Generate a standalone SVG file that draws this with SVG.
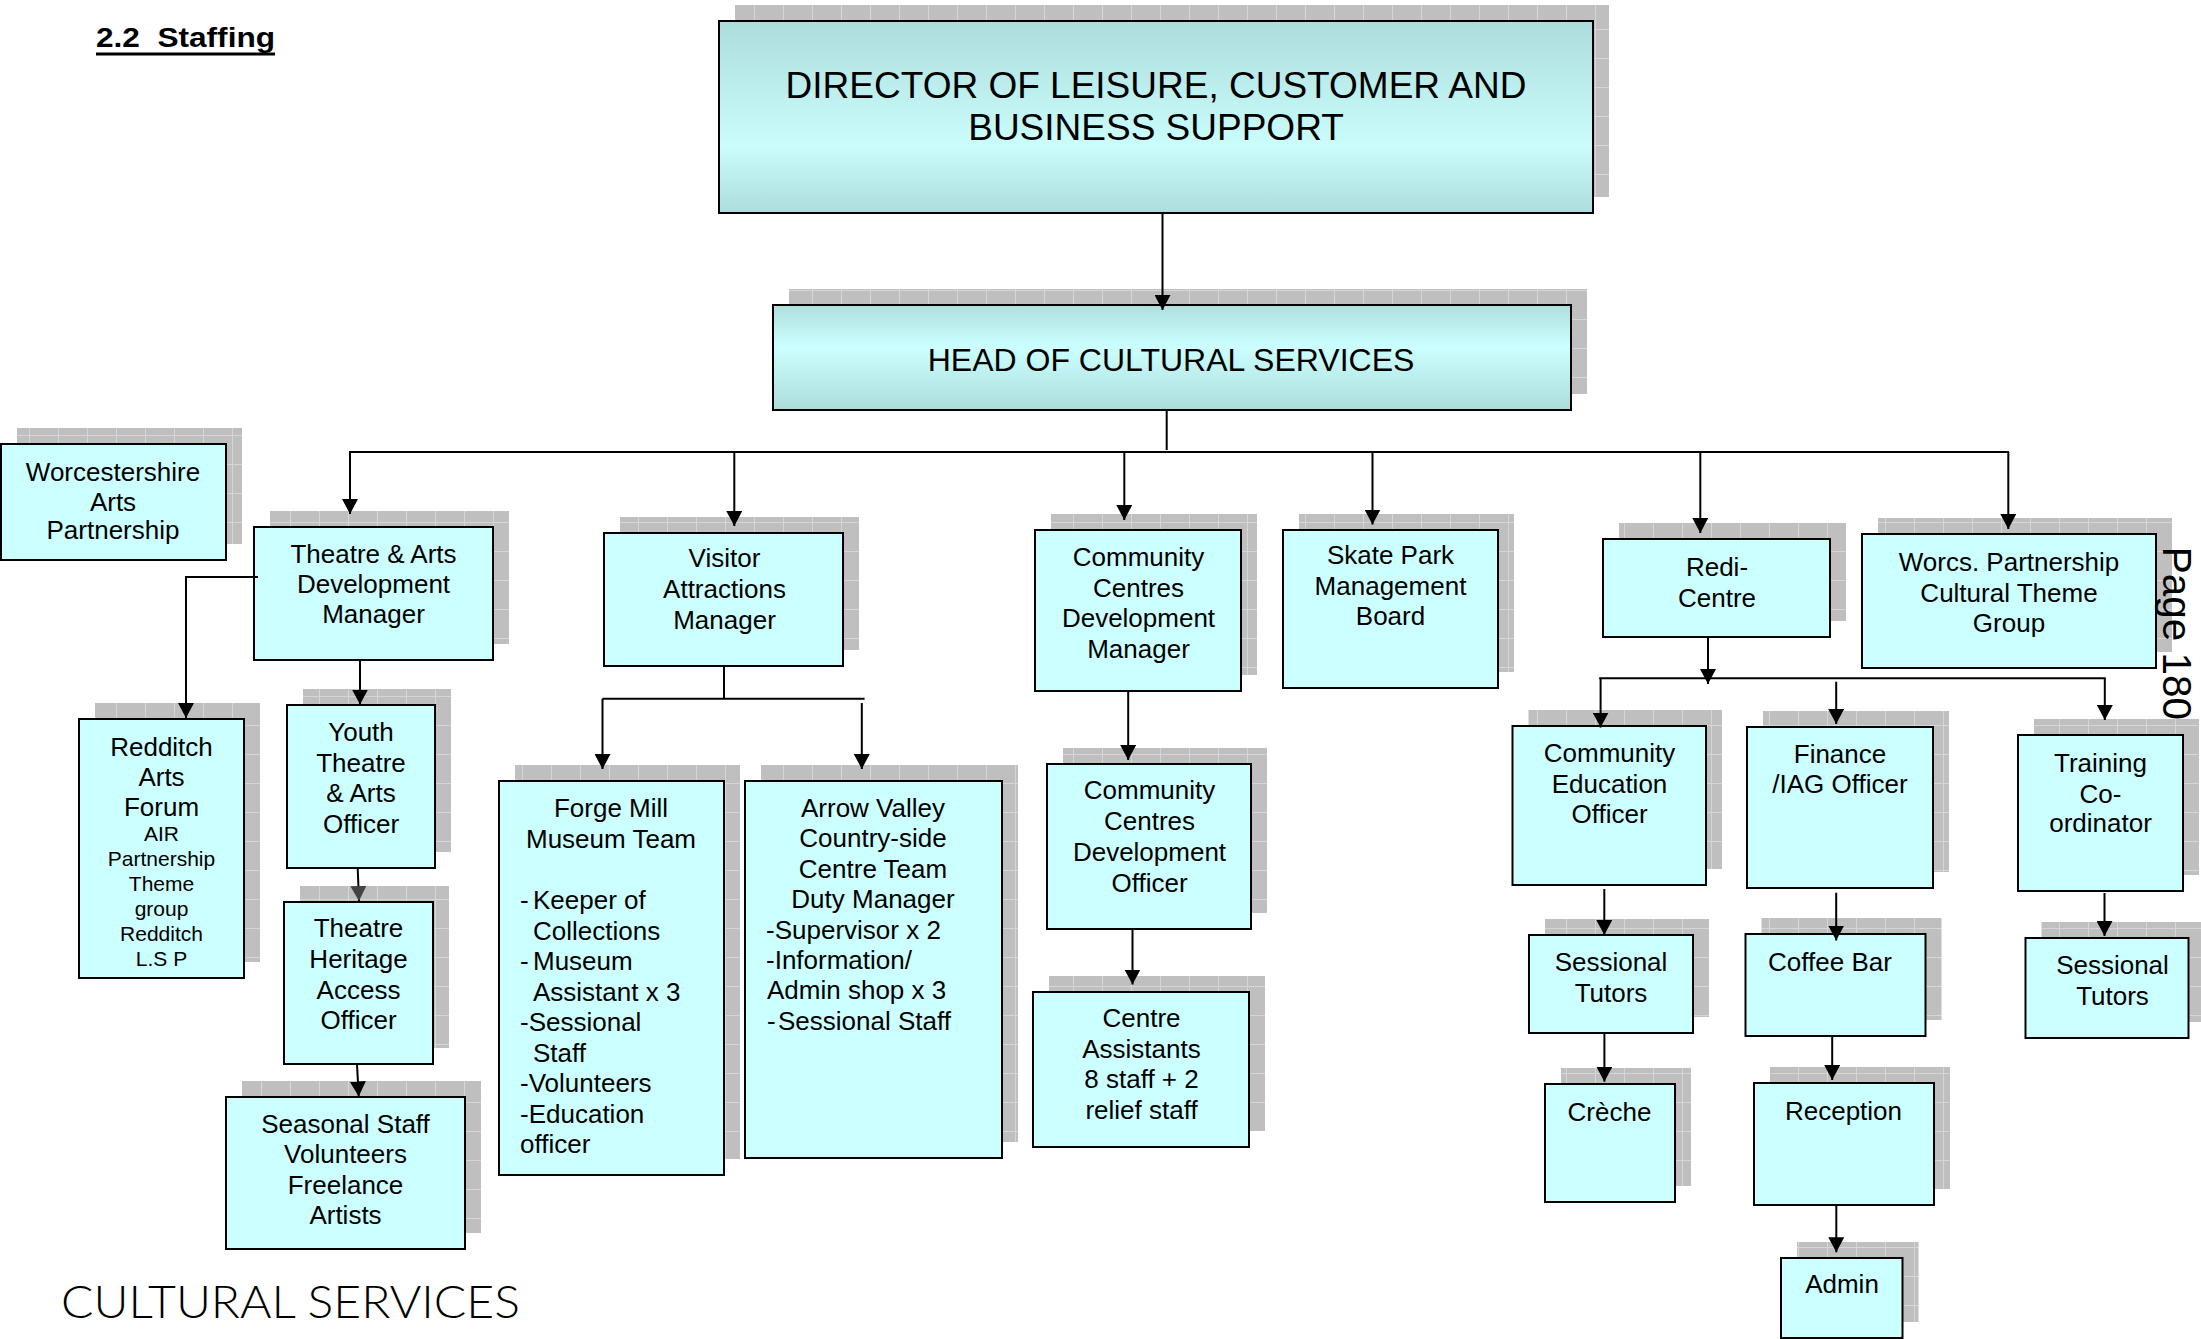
<svg xmlns="http://www.w3.org/2000/svg" width="2201" height="1339" viewBox="0 0 2201 1339">
  <defs>
    <!-- grey chequered drop shadow fill -->
    <pattern id="grid" width="29" height="29" patternUnits="userSpaceOnUse">
      <rect width="29" height="29" fill="#bfbfbf"/>
      <path d="M0 0.5H29M0.5 0V29" stroke="#d6d6d6" stroke-width="1"/>
    </pattern>
    <linearGradient id="gDir" x1="0" y1="0" x2="0" y2="1">
      <stop offset="0" stop-color="#addcdc"/>
      <stop offset="0.65" stop-color="#cbfdfd"/>
      <stop offset="1" stop-color="#addcdc"/>
    </linearGradient>
    <linearGradient id="gHead" x1="0" y1="0" x2="0" y2="1">
      <stop offset="0" stop-color="#afdfdf"/>
      <stop offset="0.4" stop-color="#ccffff"/>
      <stop offset="1" stop-color="#addcdc"/>
    </linearGradient>
    <marker id="ah" viewBox="0 0 16 16" refX="15" refY="8" markerWidth="16" markerHeight="16" markerUnits="userSpaceOnUse" orient="auto">
      <path d="M0,0 L15,8 L0,16 z" fill="#000"/>
    </marker>
    <marker id="ahg" viewBox="0 0 16 16" refX="15" refY="8" markerWidth="16" markerHeight="16" markerUnits="userSpaceOnUse" orient="auto">
      <path d="M0,0 L15,8 L0,16 z" fill="#444"/>
    </marker>
    <style>
      .sh { fill: url(#grid); }
      .box { fill: #ccffff; stroke: #000; stroke-width: 2; }
      .t { font-family: "Liberation Sans", Arial, sans-serif; font-size: 26px; fill: #000; text-anchor: middle; }
      .l { text-anchor: start; }
      .s { font-size: 21px; }
      .conn line, .conn polyline { stroke: #000; stroke-width: 2; fill: none; }
      .a { marker-end: url(#ah); }
    </style>
  </defs>

  <rect width="2201" height="1339" fill="#fff"/>

  <!-- page heading -->
  <text x="96" y="46.5" font-family="Liberation Sans, Arial, sans-serif" font-weight="bold" font-size="28" textLength="179" lengthAdjust="spacingAndGlyphs" xml:space="preserve">2.2  Staffing</text>
  <rect x="96" y="52.5" width="179" height="3" fill="#000"/>

  <!-- nodes -->
  <g id="director">
    <rect class="sh" x="735" y="5" width="874" height="192"/>
    <rect class="box" x="719" y="21" width="874" height="192" style="fill:url(#gDir)"/>
    <text class="t" style="font-size:37px"><tspan x="1156" y="98.3">DIRECTOR OF LEISURE, CUSTOMER AND</tspan><tspan x="1156" y="140">BUSINESS SUPPORT</tspan></text>
  </g>

  <g id="head">
    <rect class="sh" x="789" y="289" width="798" height="105"/>
    <rect class="box" x="773" y="305" width="798" height="105" style="fill:url(#gHead)"/>
    <text class="t" style="font-size:32px" x="1171" y="370.7">HEAD OF CULTURAL SERVICES</text>
  </g>

  <g id="worcestershire-arts">
    <rect class="sh" x="17" y="428" width="225" height="116"/>
    <rect class="box" x="1" y="444" width="225" height="116"/>
    <text class="t"><tspan x="113" y="481">Worcestershire</tspan><tspan x="113" y="510.5">Arts</tspan><tspan x="113" y="539.3">Partnership</tspan></text>
  </g>

  <g id="theatre-arts">
    <rect class="sh" x="270" y="511" width="239" height="133"/>
    <rect class="box" x="254" y="527" width="239" height="133"/>
    <text class="t"><tspan x="373.5" y="562.5">Theatre &amp; Arts</tspan><tspan x="373.5" y="593">Development</tspan><tspan x="373.5" y="623">Manager</tspan></text>
  </g>

  <g id="redditch-arts-forum">
    <rect class="sh" x="95" y="703" width="165" height="259"/>
    <rect class="box" x="79" y="719" width="165" height="259"/>
    <text class="t"><tspan x="161.5" y="756">Redditch</tspan><tspan x="161.5" y="785.5">Arts</tspan><tspan x="161.5" y="815.5">Forum</tspan></text>
    <text class="t s"><tspan x="161.5" y="841">AIR</tspan><tspan x="161.5" y="866">Partnership</tspan><tspan x="161.5" y="891">Theme</tspan><tspan x="161.5" y="916">group</tspan><tspan x="161.5" y="941">Redditch</tspan><tspan x="161.5" y="965.5">L.S P</tspan></text>
  </g>

  <g id="youth-theatre">
    <rect class="sh" x="303" y="689" width="148" height="163"/>
    <rect class="box" x="287" y="705" width="148" height="163"/>
    <text class="t"><tspan x="361" y="741">Youth</tspan><tspan x="361" y="771.5">Theatre</tspan><tspan x="361" y="802">&amp; Arts</tspan><tspan x="361" y="832.5">Officer</tspan></text>
  </g>

  <g id="theatre-heritage">
    <rect class="sh" x="300" y="886" width="149" height="162"/>
    <rect class="box" x="284" y="902" width="149" height="162"/>
    <text class="t"><tspan x="358.5" y="937">Theatre</tspan><tspan x="358.5" y="967.5">Heritage</tspan><tspan x="358.5" y="998.5">Access</tspan><tspan x="358.5" y="1028.5">Officer</tspan></text>
  </g>

  <g id="seasonal-staff">
    <rect class="sh" x="242" y="1081" width="239" height="152"/>
    <rect class="box" x="226" y="1097" width="239" height="152"/>
    <text class="t"><tspan x="345.5" y="1132.5">Seasonal Staff</tspan><tspan x="345.5" y="1163">Volunteers</tspan><tspan x="345.5" y="1193.5">Freelance</tspan><tspan x="345.5" y="1224">Artists</tspan></text>
  </g>

  <g id="visitor-attractions">
    <rect class="sh" x="620" y="517" width="239" height="133"/>
    <rect class="box" x="604" y="533" width="239" height="133"/>
    <text class="t"><tspan x="724.5" y="567">Visitor</tspan><tspan x="724.5" y="598">Attractions</tspan><tspan x="724.5" y="628.5">Manager</tspan></text>
  </g>

  <g id="forge-mill">
    <rect class="sh" x="515" y="765" width="225" height="394"/>
    <rect class="box" x="499" y="781" width="225" height="394"/>
    <text class="t"><tspan x="611" y="817">Forge Mill</tspan><tspan x="611" y="848">Museum Team</tspan></text>
    <text class="t l">
      <tspan x="520" y="908.5">-</tspan><tspan x="533" y="908.5">Keeper of</tspan>
      <tspan x="533" y="939.5">Collections</tspan>
      <tspan x="520" y="970">-</tspan><tspan x="533" y="970">Museum</tspan>
      <tspan x="533" y="1000.5">Assistant x 3</tspan>
      <tspan x="520" y="1031">-Sessional</tspan>
      <tspan x="533" y="1061.5">Staff</tspan>
      <tspan x="520" y="1092">-Volunteers</tspan>
      <tspan x="520" y="1122.5">-Education</tspan>
      <tspan x="520" y="1153">officer</tspan>
    </text>
  </g>

  <g id="arrow-valley">
    <rect class="sh" x="761" y="765" width="257" height="377"/>
    <rect class="box" x="745" y="781" width="257" height="377"/>
    <text class="t"><tspan x="873" y="817">Arrow Valley</tspan><tspan x="873" y="847">Country-side</tspan><tspan x="873" y="877.5">Centre Team</tspan><tspan x="873" y="908">Duty Manager</tspan></text>
    <text class="t l">
      <tspan x="766" y="938.5">-Supervisor x 2</tspan>
      <tspan x="766" y="969">-Information/</tspan>
      <tspan x="767" y="999">Admin shop x 3</tspan>
      <tspan x="767" y="1029.5">-</tspan><tspan x="778" y="1029.5">Sessional Staff</tspan>
    </text>
  </g>

  <g id="cc-dev-manager">
    <rect class="sh" x="1051" y="514" width="206" height="161"/>
    <rect class="box" x="1035" y="530" width="206" height="161"/>
    <text class="t"><tspan x="1138.5" y="565.5">Community</tspan><tspan x="1138.5" y="596.5">Centres</tspan><tspan x="1138.5" y="627">Development</tspan><tspan x="1138.5" y="658">Manager</tspan></text>
  </g>

  <g id="cc-dev-officer">
    <rect class="sh" x="1063" y="748" width="204" height="165"/>
    <rect class="box" x="1047" y="764" width="204" height="165"/>
    <text class="t"><tspan x="1149.5" y="799">Community</tspan><tspan x="1149.5" y="830">Centres</tspan><tspan x="1149.5" y="860.5">Development</tspan><tspan x="1149.5" y="891.5">Officer</tspan></text>
  </g>

  <g id="centre-assistants">
    <rect class="sh" x="1049" y="976" width="216" height="155"/>
    <rect class="box" x="1033" y="992" width="216" height="155"/>
    <text class="t"><tspan x="1141.5" y="1026.5">Centre</tspan><tspan x="1141.5" y="1057.5">Assistants</tspan><tspan x="1141.5" y="1088">8 staff + 2</tspan><tspan x="1141.5" y="1119">relief staff</tspan></text>
  </g>

  <g id="skate-park">
    <rect class="sh" x="1299" y="514" width="215" height="158"/>
    <rect class="box" x="1283" y="530" width="215" height="158"/>
    <text class="t"><tspan x="1390.5" y="564">Skate Park</tspan><tspan x="1390.5" y="594.5">Management</tspan><tspan x="1390.5" y="625">Board</tspan></text>
  </g>

  <g id="redi-centre">
    <rect class="sh" x="1619" y="523" width="227" height="98"/>
    <rect class="box" x="1603" y="539" width="227" height="98"/>
    <text class="t"><tspan x="1717" y="575.5">Redi-</tspan><tspan x="1717" y="606.5">Centre</tspan></text>
  </g>

  <g id="worcs-partnership">
    <rect class="sh" x="1878" y="518" width="294" height="134"/>
    <rect class="box" x="1862" y="534" width="294" height="134"/>
    <text class="t"><tspan x="2009" y="570.5">Worcs. Partnership</tspan><tspan x="2009" y="601.5">Cultural Theme</tspan><tspan x="2009" y="631.5">Group</tspan></text>
  </g>

  <g id="community-education">
    <rect class="sh" x="1528.5" y="710" width="193.5" height="159"/>
    <rect class="box" x="1512.5" y="726" width="193.5" height="159"/>
    <text class="t"><tspan x="1609.5" y="762">Community</tspan><tspan x="1609.5" y="792.5">Education</tspan><tspan x="1609.5" y="822.5">Officer</tspan></text>
  </g>

  <g id="finance-iag">
    <rect class="sh" x="1763" y="711" width="186" height="161"/>
    <rect class="box" x="1747" y="727" width="186" height="161"/>
    <text class="t"><tspan x="1840" y="762.5">Finance</tspan><tspan x="1840" y="792.5">/IAG Officer</tspan></text>
  </g>

  <g id="training">
    <rect class="sh" x="2034" y="719" width="165" height="156"/>
    <rect class="box" x="2018" y="735" width="165" height="156"/>
    <text class="t"><tspan x="2100.5" y="772">Training</tspan><tspan x="2100.5" y="802.5">Co-</tspan><tspan x="2100.5" y="832">ordinator</tspan></text>
  </g>

  <g id="sessional-tutors-1">
    <rect class="sh" x="1545" y="919" width="164" height="98"/>
    <rect class="box" x="1529" y="935" width="164" height="98"/>
    <text class="t"><tspan x="1611" y="970.5">Sessional</tspan><tspan x="1611" y="1001.5">Tutors</tspan></text>
  </g>

  <g id="coffee-bar">
    <rect class="sh" x="1761.5" y="918" width="180" height="102"/>
    <rect class="box" x="1745.5" y="934" width="180" height="102"/>
    <text class="t" x="1830" y="970.5">Coffee Bar</text>
  </g>

  <g id="sessional-tutors-2">
    <rect class="sh" x="2041.5" y="922" width="163" height="100"/>
    <rect class="box" x="2025.5" y="938" width="163" height="100"/>
    <text class="t"><tspan x="2112.5" y="973.5">Sessional</tspan><tspan x="2112.5" y="1004.5">Tutors</tspan></text>
  </g>

  <g id="creche">
    <rect class="sh" x="1561" y="1068" width="130" height="118"/>
    <rect class="box" x="1545" y="1084" width="130" height="118"/>
    <text class="t" x="1609.5" y="1120.5">Crèche</text>
  </g>

  <g id="reception">
    <rect class="sh" x="1770" y="1067" width="180" height="122"/>
    <rect class="box" x="1754" y="1083" width="180" height="122"/>
    <text class="t" x="1843.5" y="1119.7">Reception</text>
  </g>

  <g id="admin">
    <rect class="sh" x="1797" y="1242" width="121.5" height="80"/>
    <rect class="box" x="1781" y="1258" width="121.5" height="80"/>
    <text class="t" x="1842" y="1293">Admin</text>
  </g>

  <!-- connectors, drawn over the shadows so arrowheads stay visible -->
  <g id="connectors" class="conn">
    <line class="a" x1="1162.5" y1="213" x2="1162.5" y2="310"/>
    <line x1="1166.7" y1="410" x2="1166.7" y2="450"/>
    <line x1="349" y1="452" x2="2009" y2="452"/>
    <line class="a" x1="350" y1="452" x2="350" y2="514"/>
    <line class="a" x1="734.3" y1="452" x2="734.3" y2="526"/>
    <line class="a" x1="1124.3" y1="452" x2="1124.3" y2="520"/>
    <line class="a" x1="1372.5" y1="452" x2="1372.5" y2="524.5"/>
    <line class="a" x1="1700.3" y1="452" x2="1700.3" y2="533"/>
    <line class="a" x1="2008.3" y1="452" x2="2008.3" y2="529"/>

    <polyline class="a" points="258,577 186,577 186,718"/>
    <line class="a" x1="360" y1="660" x2="360" y2="704.5"/>
    <line x1="357.7" y1="868" x2="359" y2="901" marker-end="url(#ahg)"/>
    <line class="a" x1="357" y1="1064" x2="358.7" y2="1096.5"/>

    <line x1="724" y1="666" x2="724" y2="698.7"/>
    <line x1="602.5" y1="698.7" x2="864.6" y2="698.7"/>
    <line class="a" x1="602.5" y1="698.7" x2="602.5" y2="769"/>
    <line class="a" x1="861.8" y1="703" x2="861.8" y2="769"/>

    <line class="a" x1="1128.2" y1="691" x2="1128.2" y2="760"/>
    <line class="a" x1="1132.5" y1="929" x2="1132.5" y2="984.5"/>

    <line class="a" x1="1708" y1="637" x2="1708" y2="684"/>
    <line x1="1599.2" y1="678.3" x2="2105.7" y2="678.3"/>
    <line class="a" x1="1600.6" y1="678.3" x2="1600.6" y2="727.5"/>
    <line class="a" x1="1836.2" y1="681.7" x2="1836.2" y2="724"/>
    <line class="a" x1="2104.8" y1="678.3" x2="2104.8" y2="720"/>
    <line class="a" x1="1604.3" y1="889" x2="1604.3" y2="935"/>
    <line class="a" x1="1836.2" y1="892.7" x2="1836.2" y2="940.5"/>
    <line class="a" x1="2104.5" y1="893" x2="2104.5" y2="936"/>
    <line class="a" x1="1604.4" y1="1033" x2="1604.4" y2="1081.7"/>
    <line class="a" x1="1832.2" y1="1036" x2="1832.2" y2="1080"/>
    <line class="a" x1="1836.3" y1="1205" x2="1836.3" y2="1252.3"/>
  </g>

  <!-- footer and page number -->
  <text x="61" y="1318" font-family="Lato, 'Liberation Sans', sans-serif" font-weight="300" font-size="46" textLength="459" lengthAdjust="spacingAndGlyphs">CULTURAL SERVICES</text>
  <text x="2163" y="546.7" transform="rotate(90 2163 546.7)" font-family="Liberation Sans, Arial, sans-serif" font-size="40.5">Page 180</text>
</svg>
